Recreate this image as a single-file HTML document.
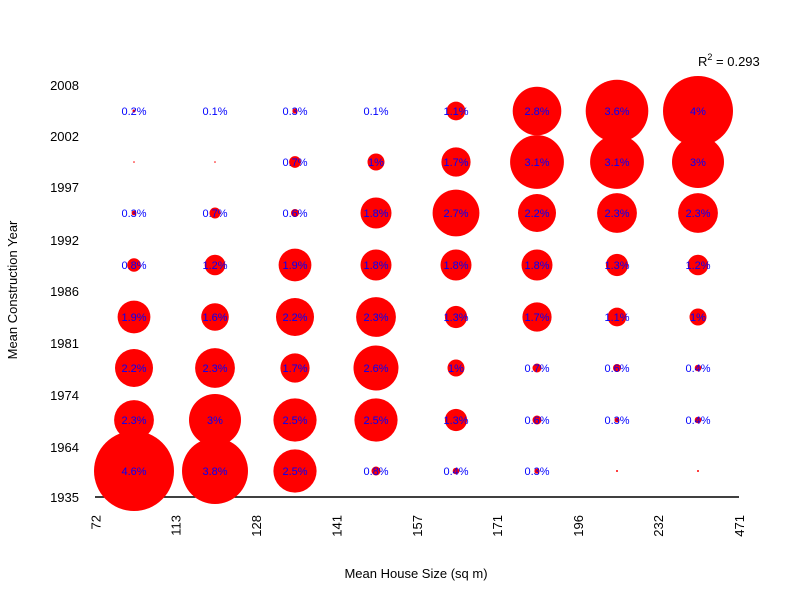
<!DOCTYPE html>
<html><head><meta charset="utf-8"><style>body{margin:0;background:#fff}svg{display:block}</style></head>
<body>
<svg width="800" height="600" xmlns="http://www.w3.org/2000/svg" font-family="Liberation Sans, sans-serif">
<rect width="800" height="600" fill="#fff"/>
<line x1="95" y1="497" x2="739" y2="497" stroke="#000" stroke-width="1.5"/>
<g fill="#f00">
<!-- row 111 -->
<circle cx="134" cy="111" r="1.5"/><circle cx="215" cy="111" r="0.5"/><circle cx="295" cy="111" r="2.6"/><circle cx="376" cy="111" r="0.5"/>
<circle cx="456" cy="111" r="9.4"/><circle cx="537" cy="111" r="24.3"/><circle cx="617" cy="111" r="31.3"/><circle cx="698" cy="111" r="35"/>
<!-- row 162 -->
<circle cx="134" cy="162" r="0.8"/><circle cx="215" cy="162" r="0.8"/><circle cx="295" cy="162" r="5.9"/><circle cx="376" cy="162" r="8.5"/>
<circle cx="456" cy="162" r="14.6"/><circle cx="537" cy="162" r="26.9"/><circle cx="617" cy="162" r="26.9"/><circle cx="698" cy="162" r="26"/>
<!-- row 213 -->
<circle cx="134" cy="213" r="2.4"/><circle cx="215" cy="213" r="5.5"/><circle cx="295" cy="213" r="4"/><circle cx="376" cy="213" r="15.5"/>
<circle cx="456" cy="213" r="23.4"/><circle cx="537" cy="213" r="19"/><circle cx="617" cy="213" r="19.9"/><circle cx="698" cy="213" r="19.9"/>
<!-- row 265 -->
<circle cx="134" cy="265" r="6.8"/><circle cx="215" cy="265" r="10.3"/><circle cx="295" cy="265" r="16.4"/><circle cx="376" cy="265" r="15.5"/>
<circle cx="456" cy="265" r="15.5"/><circle cx="537" cy="265" r="15.5"/><circle cx="617" cy="265" r="11.1"/><circle cx="698" cy="265" r="10.3"/>
<!-- row 317 -->
<circle cx="134" cy="317" r="16.4"/><circle cx="215" cy="317" r="13.8"/><circle cx="295" cy="317" r="19"/><circle cx="376" cy="317" r="19.9"/>
<circle cx="456" cy="317" r="11.1"/><circle cx="537" cy="317" r="14.6"/><circle cx="617" cy="317" r="9.4"/><circle cx="698" cy="317" r="8.5"/>
<!-- row 368 -->
<circle cx="134" cy="368" r="19"/><circle cx="215" cy="368" r="19.9"/><circle cx="295" cy="368" r="14.6"/><circle cx="376" cy="368" r="22.5"/>
<circle cx="456" cy="368" r="8.5"/><circle cx="537" cy="368" r="4.5"/><circle cx="617" cy="368" r="4"/><circle cx="698" cy="368" r="3.3"/>
<!-- row 420 -->
<circle cx="134" cy="420" r="19.9"/><circle cx="215" cy="420" r="26"/><circle cx="295" cy="420" r="21.6"/><circle cx="376" cy="420" r="21.6"/>
<circle cx="456" cy="420" r="11.1"/><circle cx="537" cy="420" r="4.5"/><circle cx="617" cy="420" r="2.5"/><circle cx="698" cy="420" r="3.3"/>
<!-- row 471 -->
<circle cx="134" cy="471" r="40"/><circle cx="215" cy="471" r="33"/><circle cx="295" cy="471" r="21.6"/><circle cx="376" cy="471" r="4.5"/>
<circle cx="456" cy="471" r="3.3"/><circle cx="537" cy="471" r="2.6"/><circle cx="617" cy="471" r="1"/><circle cx="698" cy="471" r="1"/>
</g>
<g fill="#00f" font-size="11" text-anchor="middle">
<text x="134" y="115">0.2%</text><text x="215" y="115">0.1%</text><text x="295" y="115">0.3%</text><text x="376" y="115">0.1%</text>
<text x="456" y="115">1.1%</text><text x="537" y="115">2.8%</text><text x="617" y="115">3.6%</text><text x="698" y="115">4%</text>
<text x="295" y="166">0.7%</text><text x="376" y="166">1%</text>
<text x="456" y="166">1.7%</text><text x="537" y="166">3.1%</text><text x="617" y="166">3.1%</text><text x="698" y="166">3%</text>
<text x="134" y="217">0.3%</text><text x="215" y="217">0.7%</text><text x="295" y="217">0.6%</text><text x="376" y="217">1.8%</text>
<text x="456" y="217">2.7%</text><text x="537" y="217">2.2%</text><text x="617" y="217">2.3%</text><text x="698" y="217">2.3%</text>
<text x="134" y="269">0.8%</text><text x="215" y="269">1.2%</text><text x="295" y="269">1.9%</text><text x="376" y="269">1.8%</text>
<text x="456" y="269">1.8%</text><text x="537" y="269">1.8%</text><text x="617" y="269">1.3%</text><text x="698" y="269">1.2%</text>
<text x="134" y="321">1.9%</text><text x="215" y="321">1.6%</text><text x="295" y="321">2.2%</text><text x="376" y="321">2.3%</text>
<text x="456" y="321">1.3%</text><text x="537" y="321">1.7%</text><text x="617" y="321">1.1%</text><text x="698" y="321">1%</text>
<text x="134" y="372">2.2%</text><text x="215" y="372">2.3%</text><text x="295" y="372">1.7%</text><text x="376" y="372">2.6%</text>
<text x="456" y="372">1%</text><text x="537" y="372">0.7%</text><text x="617" y="372">0.6%</text><text x="698" y="372">0.4%</text>
<text x="134" y="424">2.3%</text><text x="215" y="424">3%</text><text x="295" y="424">2.5%</text><text x="376" y="424">2.5%</text>
<text x="456" y="424">1.3%</text><text x="537" y="424">0.6%</text><text x="617" y="424">0.3%</text><text x="698" y="424">0.4%</text>
<text x="134" y="475">4.6%</text><text x="215" y="475">3.8%</text><text x="295" y="475">2.5%</text><text x="376" y="475">0.8%</text>
<text x="456" y="475">0.4%</text><text x="537" y="475">0.3%</text>
</g>
<g fill="#000" font-size="13" text-anchor="end">
<text x="79" y="90">2008</text><text x="79" y="141">2002</text><text x="79" y="192">1997</text><text x="79" y="245">1992</text>
<text x="79" y="296">1986</text><text x="79" y="348">1981</text><text x="79" y="400">1974</text><text x="79" y="452">1964</text><text x="79" y="502">1935</text>
</g>
<g fill="#000" font-size="13" text-anchor="end">
<text transform="translate(100.5,515) rotate(-90)">72</text>
<text transform="translate(180.5,515) rotate(-90)">113</text>
<text transform="translate(261,515) rotate(-90)">128</text>
<text transform="translate(341.5,515) rotate(-90)">141</text>
<text transform="translate(422,515) rotate(-90)">157</text>
<text transform="translate(502,515) rotate(-90)">171</text>
<text transform="translate(583,515) rotate(-90)">196</text>
<text transform="translate(663,515) rotate(-90)">232</text>
<text transform="translate(744,515) rotate(-90)">471</text>
</g>
<text x="416" y="578" font-size="13" text-anchor="middle">Mean House Size (sq m)</text>
<text transform="translate(17,290) rotate(-90)" font-size="13" text-anchor="middle">Mean Construction Year</text>
<text x="698" y="66" font-size="13">R<tspan font-size="9" dy="-6">2</tspan><tspan dy="6"> = 0.293</tspan></text>
</svg>
</body></html>
